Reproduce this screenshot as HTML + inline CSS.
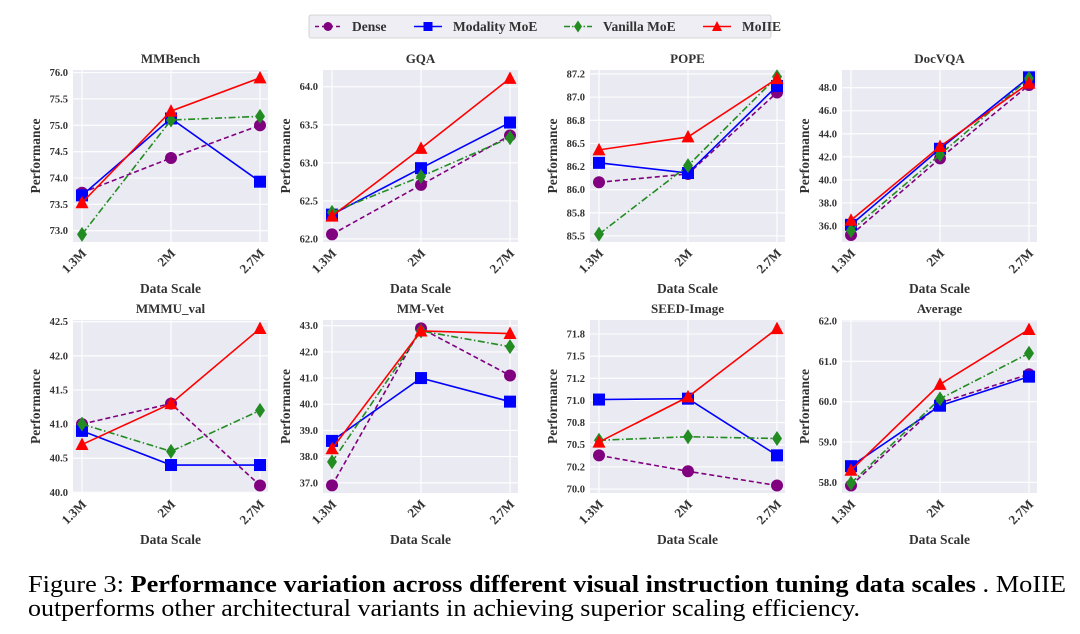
<!DOCTYPE html>
<html><head><meta charset="utf-8"><style>
html,body{margin:0;padding:0;background:#fff;}
svg{display:block;font-family:"Liberation Serif",serif;}
</style></head><body>
<svg id="fig" width="1080" height="634" viewBox="0 0 1080 634">
<g>
<rect x="309" y="15" width="462" height="23" rx="2" fill="#eeeef4" stroke="#ccc" stroke-width="0.8"/>
<g><line x1="315" y1="26.5" x2="341" y2="26.5" stroke="#800080" stroke-width="1.6" stroke-dasharray="4,3"/><circle cx="328" cy="26.5" r="4.5" fill="#800080"/><text x="352" y="31" font-size="13.5" font-weight="bold" fill="#333">Dense</text></g>
<g><line x1="414" y1="26.5" x2="442" y2="26.5" stroke="#0000ff" stroke-width="1.6"/><rect x="423.5" y="22" width="9" height="9" fill="#0000ff"/><text x="453" y="31" font-size="13.5" font-weight="bold" fill="#333">Modality MoE</text></g>
<g><line x1="564" y1="26.5" x2="592" y2="26.5" stroke="#228b22" stroke-width="1.6" stroke-dasharray="6,2,1.5,2"/><polygon points="578,20.5 582,26.5 578,32.5 574,26.5" fill="#228b22"/><text x="603" y="31" font-size="13.5" font-weight="bold" fill="#333">Vanilla MoE</text></g>
<g><line x1="703" y1="26.5" x2="731" y2="26.5" stroke="#ff0000" stroke-width="1.6"/><polygon points="717,21 722,31 712,31" fill="#ff0000"/><text x="742" y="31" font-size="13.5" font-weight="bold" fill="#333">MoIIE</text></g>
</g>
<g id="panels"></g>
<text x="28" y="592" font-size="24" fill="#000" textLength="1038" lengthAdjust="spacingAndGlyphs">Figure 3: <tspan font-weight="bold">Performance variation across different visual instruction tuning data scales</tspan> . MoIIE</text>
<text x="28" y="616" font-size="24" fill="#000" textLength="832" lengthAdjust="spacingAndGlyphs">outperforms other architectural variants in achieving superior scaling efficiency.</text>
</svg>
<script>
const categories = ["1.3M","2M","2.7M"];
const seriesNames = ["Dense","Modality MoE","Vanilla MoE","MoIIE"];
const panelTitles = ["MMBench","GQA","POPE","DocVQA","MMMU_val","MM-Vet","SEED-Image","Average"];
const mmbenchValues = [[73.72,74.38,75.0],[73.67,75.13,73.93],[72.93,75.1,75.17],[73.53,75.27,75.9]];
const gqaValues = [[62.06,62.71,63.36],[62.32,62.93,63.53],[62.35,62.82,63.33],[62.30,63.19,64.11]];
const popeValues = [[86.08,86.17,87.05],[86.29,86.18,87.12],[85.52,86.26,87.22],[86.43,86.57,87.20]];
const docvqaValues = [[35.22,41.87,48.23],[36.1,42.7,48.9],[35.6,42.2,48.8],[36.5,42.9,48.4]];
const mmmuValues = [[41.0,41.3,40.1],[40.9,40.4,40.4],[41.0,40.6,41.2],[40.7,41.3,42.4]];
const mmvetValues = [[36.9,42.9,41.1],[38.6,41.0,40.1],[37.8,42.8,42.2],[38.3,42.8,42.7]];
const seedValues = [[70.38,70.20,70.04],[71.01,71.02,70.38],[70.55,70.59,70.57],[70.53,71.04,71.81]];
const averageValues = [[57.92,59.97,60.68],[58.4,59.9,60.62],[57.98,60.07,61.2],[58.3,60.43,61.79]];
const mmbenchTicks = [73.0,73.5,74.0,74.5,75.0,75.5,76.0];
const mmbenchTickLabels = ["73.0","73.5","74.0","74.5","75.0","75.5","76.0"];
const gqaTicks = [62.0,62.5,63.0,63.5,64.0];
const gqaTickLabels = ["62.0","62.5","63.0","63.5","64.0"];
const popeTicks = [85.5,85.75,86.0,86.25,86.5,86.75,87.0,87.25];
const popeTickLabels = ["85.5","85.8","86.0","86.2","86.5","86.8","87.0","87.2"];
const docvqaTicks = [36,38,40,42,44,46,48];
const docvqaTickLabels = ["36.0","38.0","40.0","42.0","44.0","46.0","48.0"];
const mmmuTicks = [40.0,40.5,41.0,41.5,42.0,42.5];
const mmmuTickLabels = ["40.0","40.5","41.0","41.5","42.0","42.5"];
const mmvetTicks = [37,38,39,40,41,42,43];
const mmvetTickLabels = ["37.0","38.0","39.0","40.0","41.0","42.0","43.0"];
const seedTicks = [70.0,70.25,70.5,70.75,71.0,71.25,71.5,71.75];
const seedTickLabels = ["70.0","70.2","70.5","70.8","71.0","71.2","71.5","71.8"];
const averageTicks = [58,59,60,61,62];
const averageTickLabels = ["58.0","59.0","60.0","61.0","62.0"];

const panelValues = [mmbenchValues,gqaValues,popeValues,docvqaValues,mmmuValues,mmvetValues,seedValues,averageValues];
const panelTicks = [mmbenchTicks,gqaTicks,popeTicks,docvqaTicks,mmmuTicks,mmvetTicks,seedTicks,averageTicks];
const panelTickLabels = [mmbenchTickLabels,gqaTickLabels,popeTickLabels,docvqaTickLabels,mmmuTickLabels,mmvetTickLabels,seedTickLabels,averageTickLabels];
// layout: y domain at plot-background edges
const domains = [[72.785,76.05],[61.96,64.22],[85.435,87.293],[34.61,49.536],[39.99,42.525],[36.61,43.218],[69.955,71.908],[57.735,62.025]];
const colLeft = [73,323,590,842];
const rowTop = [70,320], rowBottom = [242,493];
const styles = [
 {c:"#800080",dash:"5,3",m:"circle"},
 {c:"#0000ff",dash:"",m:"square"},
 {c:"#228b22",dash:"7,2.5,1.5,2.5",m:"diamond"},
 {c:"#ff0000",dash:"",m:"triangle"}];
const NS="http://www.w3.org/2000/svg";
function mk(tag,attrs,parent){const e=document.createElementNS(NS,tag);for(const k in attrs)e.setAttribute(k,attrs[k]);parent.appendChild(e);return e;}
const root=document.getElementById("panels");
panelTitles.forEach((title,p)=>{
  const col=p%4,row=Math.floor(p/4);
  const L=colLeft[col],W=195,T=rowTop[row],B=rowBottom[row];
  const [d0,d1]=domains[p];
  const y=v=>B-(v-d0)/(d1-d0)*(B-T);
  const x=i=>L+9+i*89;
  const g=mk("g",{},root);
  
  
  const bg=mk("rect",{x:L,y:T,width:W,height:B-T,fill:"#eaeaf2"},g);
  
  
  panelTicks[p].forEach((t,k)=>{
    const yy=y(t);
    mk("line",{x1:L,x2:L+W,y1:yy,y2:yy,stroke:"#fff","stroke-width":1.1},g);
    const tl=mk("text",{x:L-5,y:yy+3.5,"text-anchor":"end","font-size":10.5,"font-weight":"bold",fill:"#333"},g);
    tl.textContent=panelTickLabels[p][k];
    
    
  });
  categories.forEach((c,i)=>{
    const xx=x(i);
    mk("line",{x1:xx,x2:xx,y1:T,y2:B,stroke:"#fff","stroke-width":1.1},g);
    const tl=mk("text",{x:xx+5,y:B+12,"text-anchor":"end","font-size":13,"font-weight":"bold",fill:"#333",transform:`rotate(-45 ${xx+5} ${B+12})`},g);
    tl.textContent=c;
    
    
  });
  const tt=mk("text",{x:L+W/2,y:T-7,"text-anchor":"middle","font-size":13,"font-weight":"bold",fill:"#333"},g);
  tt.textContent=title;
  
  
  const xl=mk("text",{x:L+W/2,y:B+51,"text-anchor":"middle","font-size":13.5,"font-weight":"bold",fill:"#333"},g);
  xl.textContent="Data Scale";
  
  
  const yc=(T+B)/2, yx=L-33;
  const yl=mk("text",{x:yx,y:yc,"text-anchor":"middle","font-size":13.5,"font-weight":"bold",fill:"#333",transform:`rotate(-90 ${yx} ${yc})`},g);
  yl.textContent="Performance";
  
  
  panelValues[p].forEach((vals,s)=>{
    const st=styles[s];
    const sg=mk("g",{},g);
    
    
    const pts=vals.map((v,i)=>x(i)+","+y(v)).join(" ");
    const pl=mk("polyline",{points:pts,fill:"none",stroke:st.c,"stroke-width":1.6},sg);
    if(st.dash)pl.setAttribute("stroke-dasharray",st.dash);
    
    
    vals.forEach((v,i)=>{
      const cx=x(i),cy=y(v);let m;
      if(st.m==="circle")m=mk("circle",{cx:cx,cy:cy,r:6,fill:st.c},sg);
      else if(st.m==="square")m=mk("rect",{x:cx-6,y:cy-6,width:12,height:12,fill:st.c},sg);
      else if(st.m==="diamond")m=mk("polygon",{points:`${cx},${cy-7.5} ${cx+5},${cy} ${cx},${cy+7.5} ${cx-5},${cy}`,fill:st.c},sg);
      else m=mk("polygon",{points:`${cx},${cy-7} ${cx+6.5},${cy+5.5} ${cx-6.5},${cy+5.5}`,fill:st.c},sg);
      
      
    });
  });
});
</script>
</body></html>
